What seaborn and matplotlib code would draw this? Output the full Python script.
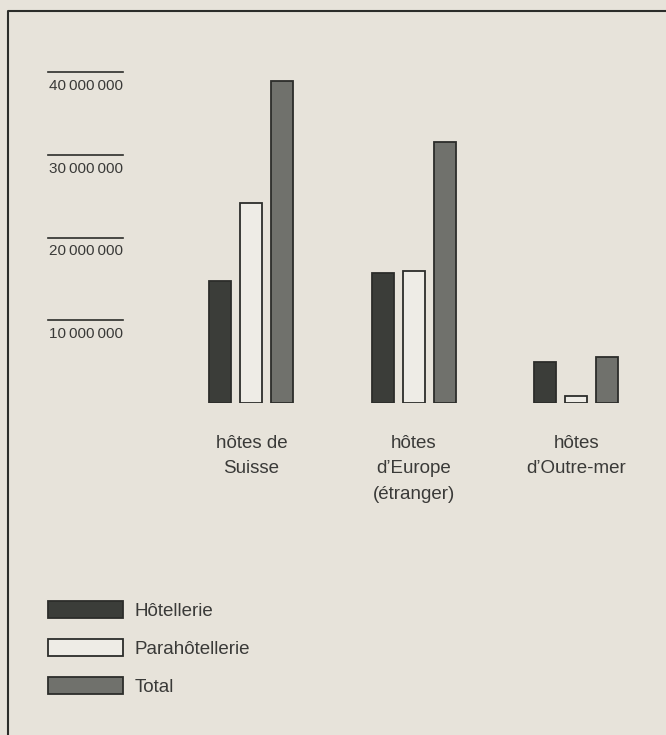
import pandas as pd
import matplotlib.pyplot as plt
import seaborn as sns
from matplotlib.lines import Line2D

# 数据
groupes = ['hôtes de\nSuisse', 'hôtes\nd\u2019Europe\n(étranger)', 'hôtes\nd\u2019Outre-mer']
hotellerie = [14.8e6, 15.7e6, 4.9e6]
parahotellerie = [24.2e6, 16.0e6, 0.8e6]
total = [38.9e6, 31.6e6, 5.6e6]
series = ['Hôtellerie', 'Parahôtellerie', 'Total']
tick_vals = [10e6, 20e6, 30e6, 40e6]
tick_labels = ['10\u2009000\u2009000', '20\u2009000\u2009000', '30\u2009000\u2009000', '40\u2009000\u2009000']

# 长表格式，供 seaborn 使用
df = pd.DataFrame({
    'groupe': groupes * 3,
    'serie': [s for s in series for _ in groupes],
    'valeur': hotellerie + parahotellerie + total,
})

bg = '#e7e3da'
ink = '#2c2d2a'
palette = {'Hôtellerie': '#3b3d39', 'Parahôtellerie': '#eeece6', 'Total': '#70716c'}

plt.rcParams['font.family'] = ['Liberation Sans', 'DejaVu Sans']
plt.rcParams['text.color'] = '#3a3a38'

fig = plt.figure(figsize=(6.66, 7.35), dpi=100, facecolor=bg)
ax = fig.add_axes([48 / 666, (735 - 403) / 735, 592 / 666, (403 - 55.5) / 735])
ax.set_facecolor('none')

sns.barplot(data=df, x='groupe', y='valeur', hue='serie', hue_order=series,
            palette=palette, width=0.572, gap=0.29, edgecolor=ink, linewidth=1.3,
            saturation=1, ax=ax)

ax.set_xlim(-1.252, 2.391)
ax.set_ylim(0, 42e6)
ax.set_xlabel('')
ax.set_ylabel('')
ax.set_yticks([])
for s in ax.spines.values():
    s.set_visible(False)
ax.tick_params(axis='x', length=0, pad=23, labelsize=13.5, labelcolor='#3a3a38')
for t in ax.get_xticklabels():
    t.set_linespacing(1.65)

# 刻度线和标签画在数值上方
trans = ax.get_yaxis_transform()
for v, lab in zip(tick_vals, tick_labels):
    ax.plot([0, 75 / 592], [v, v], transform=trans, color=ink, lw=1.2, clip_on=False)
    ax.annotate(lab, xy=(75 / 592, v), xycoords=trans, xytext=(0, -5),
                textcoords='offset points', ha='right', va='top', fontsize=11)

# 图例
handles, labels = ax.get_legend_handles_labels()
ax.legend(handles, labels, loc='upper left', bbox_to_anchor=(48 / 666, 1 - 601 / 735),
          bbox_transform=fig.transFigure, frameon=False, fontsize=13.5,
          handlelength=4.0, handleheight=1.05, handletextpad=0.6, labelspacing=1.0,
          borderpad=0, borderaxespad=0)

# 外框线（左、上）
fig.add_artist(Line2D([8 / 666, 8 / 666, 1], [0, 1 - 11 / 735, 1 - 11 / 735],
                      transform=fig.transFigure, color=ink, lw=1.5))

plt.savefig('out.png', dpi=100, facecolor=bg)
